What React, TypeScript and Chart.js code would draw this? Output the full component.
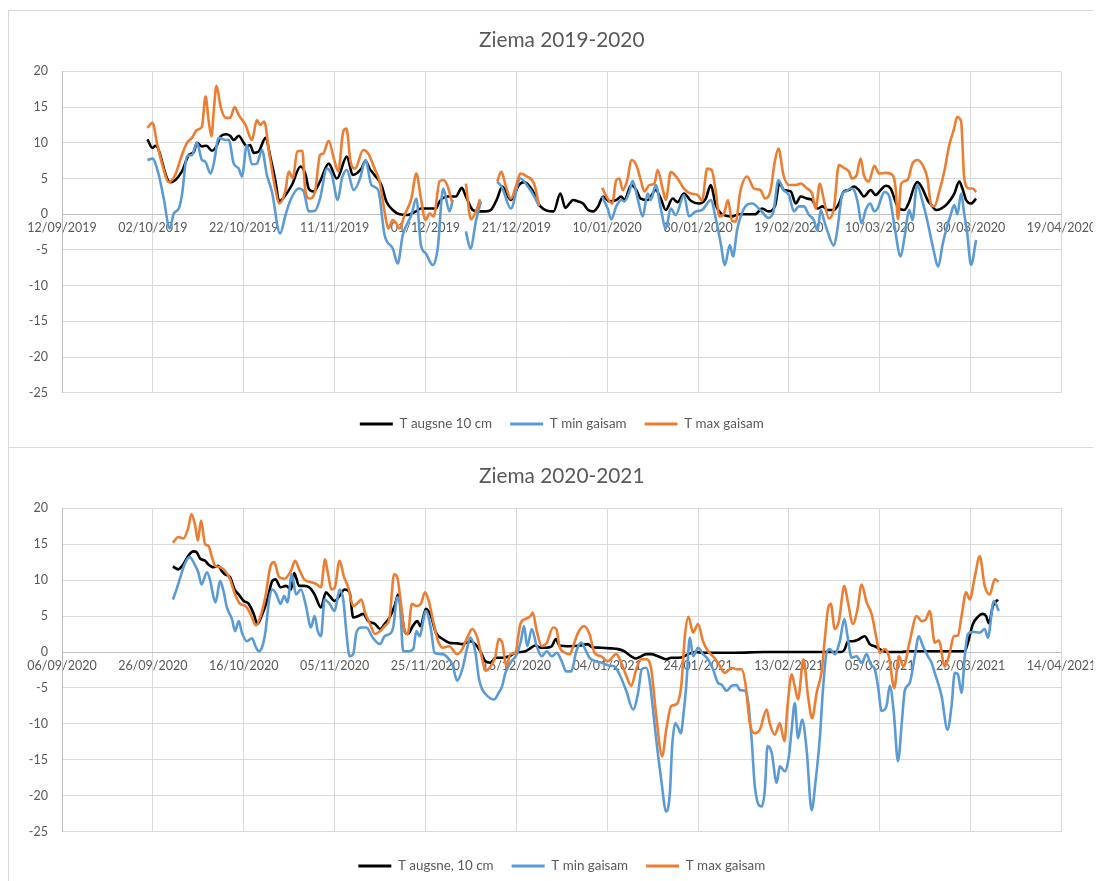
import { useEffect, useRef } from "react";
import { Chart, registerables } from "chart.js";

Chart.register(...registerables);

type Pt = [number, number | null];

// ---------- shared axis / legend data ----------
const seriesLabelsTop = ["T augsne 10 cm", "T min gaisam", "T max gaisam"];
const seriesLabelsBottom = ["T augsne, 10 cm", "T min gaisam", "T max gaisam"];
const seriesColors = ["#000000", "#5B9BD5", "#ED7D31"];
const yMin = -25;
const yMax = 20;
const yStep = 5;
const xSpanDays = 220;
const xStepDays = 20;

// ---------- Ziema 2019-2020 (x = days since 12/09/2019) ----------
const start1920: [number, number, number] = [2019, 8, 12];

const soil1920: Pt[] = [
  [18.8, 10.5], [19.9, 9.3], [20.6, 9.6], [23.5, 4.6], [24.0, 4.5], [26.4, 6.0], [27.9, 8.3], [29.0, 8.7],
  [29.7, 10.0], [30.8, 9.5], [31.8, 9.6], [33.0, 8.9], [34.0, 9.5], [34.9, 10.9], [36.0, 11.2], [37.0, 11.0],
  [37.8, 10.4], [38.9, 11.0], [40.0, 10.0], [40.7, 9.5], [41.4, 9.7], [42.2, 8.6], [43.3, 8.8], [44.8, 10.7],
  [45.9, 7.9], [47.0, 4.6], [47.8, 1.8], [49.2, 2.7], [50.6, 4.1], [52.5, 6.7], [53.6, 5.6], [54.3, 3.6],
  [55.4, 3.2], [56.8, 4.6], [58.7, 7.1], [60.5, 5.0], [62.7, 8.1], [64.0, 5.5], [65.9, 6.4], [66.8, 7.5],
  [67.7, 6.4], [68.8, 5.5], [70.3, 4.1], [71.4, 1.8], [72.8, 0.6], [74.3, 0.0], [76.1, -0.1], [77.9, 0.4],
  [79.0, 0.8], [82.3, 0.8], [83.1, 1.8], [84.9, 2.5], [86.7, 2.5], [88.0, 3.7], [88.9, 2.5], [90.4, 0.6],
  [91.5, 0.4], [93.3, 0.4], [94.4, 0.6], [95.8, 2.2], [96.9, 3.9], [98.8, 2.0], [100.6, 4.1], [101.7, 4.5],
  [103.5, 3.4], [105.3, 1.1], [108.2, 0.4], [109.7, 2.9], [110.8, 0.9], [111.8, 1.6], [112.5, 2.0], [113.6, 1.8],
  [114.7, 1.5], [115.8, 0.6], [116.9, 0.4], [118.0, 1.1], [119.1, 2.5], [120.5, 1.8], [122.0, 2.0], [123.1, 2.5],
  [123.8, 2.0], [125.3, 4.1], [126.4, 3.4], [127.4, 2.2], [128.9, 2.0], [130.7, 3.4], [131.8, 2.2], [132.9, 0.6],
  [134.4, 2.2], [135.5, 1.7], [136.9, 2.9], [138.4, 1.9], [140.2, 1.5], [141.7, 2.2], [142.8, 4.1], [143.9, 1.3],
  [145.3, 0.0], [147.5, -0.3], [149.0, 0.0], [152.6, 0.0], [154.1, 0.8], [155.5, 0.4], [157.0, 1.3], [157.9, 4.4],
  [158.9, 3.4], [160.4, 3.2], [161.5, 1.5], [162.6, 2.5], [164.0, 2.2], [165.1, 2.0], [166.3, 0.8], [167.4, 1.1],
  [168.5, 0.6], [169.9, 0.6], [171.0, 1.5], [172.1, 3.2], [173.2, 3.4], [174.3, 3.9], [175.4, 3.4], [176.5, 2.5],
  [178.0, 3.4], [179.1, 2.7], [180.2, 3.4], [181.3, 4.0], [182.4, 3.6], [183.9, 1.1], [185.4, 0.6], [186.5, 1.8],
  [187.6, 3.9], [188.3, 4.5], [189.4, 3.6], [190.5, 2.0], [191.6, 1.1], [192.4, 0.6], [193.5, 0.8], [194.9, 1.5],
  [196.4, 2.9], [197.5, 4.6], [198.2, 3.6], [199.0, 2.0], [200.1, 1.5], [201.2, 2.2],
];

const tmin1920: Pt[] = [
  [18.8, 7.6], [19.9, 7.8], [21.3, 5.5], [22.4, 2.2], [23.7, -2.0], [24.6, 0.1], [25.7, 0.8], [26.4, 2.7],
  [27.5, 8.1], [28.6, 8.3], [29.7, 10.0], [30.8, 7.6], [31.5, 7.4], [32.7, 5.7], [33.4, 7.1], [34.5, 10.7],
  [36.0, 10.4], [36.7, 10.4], [37.8, 7.1], [38.9, 6.4], [39.6, 5.3], [40.7, 9.7], [41.8, 7.0], [42.9, 7.1],
  [44.0, 9.0], [45.1, 5.5], [46.2, 3.2], [48.0, -2.7], [49.2, -0.1], [50.3, 2.0], [52.1, 3.6], [53.2, 3.2],
  [54.3, 0.4], [55.7, 0.5], [56.8, 2.2], [58.3, 6.4], [59.4, 5.5], [60.7, 2.0], [61.6, 5.0], [62.7, 6.2],
  [64.2, 3.4], [65.6, 5.0], [66.8, 7.6], [68.1, 4.1], [69.6, 3.4], [71.0, -2.9], [72.8, -4.8], [73.9, -6.9],
  [75.0, -2.9], [76.9, -0.1], [78.0, 2.2], [79.0, -4.3], [80.1, -5.5], [81.6, -7.1], [82.7, -4.8], [83.9, 3.6],
  [85.3, 0.4], [86.0, 2.0], [87.5, null], [88.9, -2.4], [89.9, -4.8], [91.1, -1.0], [92.2, 1.8], [94.0, null],
  [95.8, 4.6], [96.9, 3.7], [98.8, 0.8], [100.9, 5.0], [102.3, 4.1], [104.2, 2.2], [105.0, 1.1], [110.0, null],
  [118.9, 2.5], [120.1, 0.8], [120.9, -0.7], [122.0, 1.1], [123.1, 2.0], [123.8, 1.8], [124.9, 3.2], [125.6, 4.7],
  [126.7, 2.2], [127.8, -0.3], [128.9, 2.9], [129.6, 2.0], [130.7, 4.1], [131.8, 0.8], [132.9, -2.0], [134.0, 0.8],
  [135.1, -0.1], [136.9, 2.7], [138.0, -0.3], [139.5, 0.4], [140.9, 0.6], [142.0, 1.5], [142.8, 2.0], [143.9, -0.6],
  [145.0, -4.1], [145.9, -7.1], [147.0, -4.3], [147.7, -5.9], [148.6, -2.2], [150.1, 0.8], [151.9, 1.5], [153.7, 0.6],
  [155.5, -0.5], [156.6, 0.4], [157.7, 4.8], [158.8, 3.4], [160.0, 2.7], [161.1, 0.4], [162.2, 1.1], [163.3, 1.1],
  [164.4, -0.1], [165.5, -0.8], [166.3, -2.3], [167.0, 0.6], [167.8, -1.0], [168.5, -2.4], [169.9, -4.4], [170.6, -2.4],
  [171.8, 2.9], [172.5, 3.2], [173.6, 3.6], [174.3, 3.4], [175.1, 1.8], [176.0, -1.3], [176.9, 0.6], [177.9, 1.5],
  [178.8, 0.4], [179.5, 0.8], [181.0, 3.1], [182.1, 2.5], [183.2, -1.5], [184.6, -5.9], [185.4, -3.4], [186.5, 0.6],
  [187.2, -0.8], [188.2, 4.1], [189.4, 1.8], [190.5, -1.0], [191.6, -4.3], [192.9, -7.3], [193.8, -4.3], [194.9, -1.5],
  [195.6, -0.1], [196.4, 1.3], [197.1, 0.0], [197.9, 2.9], [198.6, 0.0], [199.2, -2.4], [200.1, -7.1], [201.2, -3.6],
];

const tmax1920: Pt[] = [
  [18.8, 12.1], [19.9, 12.8], [21.0, 9.7], [22.1, 6.9], [23.5, 4.5], [24.9, 5.5], [26.4, 8.3], [27.5, 10.0],
  [28.6, 10.7], [29.7, 11.8], [30.8, 12.3], [31.6, 16.5], [32.3, 13.0], [32.9, 10.9], [33.4, 14.4], [34.0, 18.0],
  [34.9, 15.1], [36.0, 13.5], [37.0, 13.5], [38.0, 15.0], [38.9, 13.9], [40.4, 12.5], [41.8, 10.4], [42.9, 13.2],
  [43.6, 12.5], [44.5, 13.0], [45.6, 8.6], [47.0, 3.4], [47.8, 1.5], [49.2, 3.4], [49.9, 6.0], [50.8, 5.1],
  [51.8, 8.8], [52.9, 8.9], [53.5, 3.6], [54.5, 2.2], [55.7, 3.2], [56.8, 8.3], [57.5, 8.5], [58.7, 10.3],
  [59.8, 7.9], [60.8, 6.0], [61.9, 11.6], [62.6, 12.0], [63.5, 7.4], [64.5, 6.4], [66.3, 9.0], [67.4, 8.5],
  [68.8, 6.4], [69.9, 4.6], [71.0, 0.4], [71.8, -2.0], [72.8, -0.8], [73.6, -1.3], [74.3, -2.0], [75.4, -0.1],
  [76.9, 2.2], [78.0, 5.7], [79.0, 2.2], [80.0, -0.8], [80.9, 0.1], [81.8, -0.3], [83.1, 4.6], [84.0, 4.8],
  [84.9, 3.9], [85.8, 1.8], [87.5, null], [88.9, 4.3], [90.0, -0.7], [91.1, 0.4], [92.0, 2.1], [94.0, null],
  [95.8, 4.6], [96.7, 6.0], [97.7, 3.9], [98.8, 2.2], [99.9, 3.9], [100.9, 5.7], [102.3, 5.3], [103.9, 4.3],
  [105.0, 1.3], [110.0, null], [118.9, 3.7], [120.1, 2.2], [121.1, 1.5], [122.0, 4.8], [122.7, 5.0], [123.4, 3.4],
  [124.5, 5.0], [125.3, 7.6], [126.4, 6.9], [127.3, 5.0], [128.2, 3.2], [129.3, 4.1], [130.4, 4.3], [131.1, 6.2],
  [132.2, 3.6], [132.9, 2.0], [134.0, 5.9], [135.5, 5.0], [136.9, 3.6], [138.4, 2.9], [139.9, 2.7], [140.9, 1.9],
  [142.0, 6.4], [143.0, 6.2], [143.9, 3.2], [144.7, -0.3], [145.7, 0.1], [146.6, 2.0], [147.5, -1.0], [148.3, -1.0],
  [149.3, 3.2], [150.8, 5.3], [152.3, 3.6], [153.7, 3.4], [154.8, 2.2], [155.9, 3.2], [156.9, 7.4], [157.7, 9.2],
  [158.8, 5.5], [160.0, 4.1], [161.5, 4.1], [162.6, 4.3], [164.0, 3.6], [165.1, 2.9], [165.9, 0.8], [166.8, 4.3],
  [167.7, 2.0], [168.8, -0.6], [169.9, 0.8], [171.0, 6.9], [172.1, 6.5], [173.2, 6.0], [173.9, 5.0], [174.9, 5.5],
  [175.8, 7.8], [176.5, 5.5], [177.6, 4.6], [178.8, 6.8], [179.9, 5.7], [181.3, 5.8], [182.8, 5.5], [183.5, 3.6],
  [184.0, -0.7], [184.7, 4.3], [186.1, 4.8], [187.2, 7.1], [188.3, 7.6], [189.4, 6.9], [190.5, 5.0], [191.3, 1.3],
  [192.0, 1.1], [193.1, 3.2], [194.2, 6.0], [195.3, 9.7], [196.4, 12.1], [197.0, 13.6], [197.9, 13.0], [198.6, 5.0],
  [199.7, 3.6], [200.5, 3.6], [201.2, 3.1],
];

// ---------- Ziema 2020-2021 (x = days since 06/09/2020) ----------
const start2021: [number, number, number] = [2020, 8, 6];

const soil2021: Pt[] = [
  [24.4, 11.9], [25.6, 11.5], [26.7, 12.2], [27.8, 13.4], [28.9, 14.0], [29.6, 13.9], [30.4, 13.0], [31.5, 12.7],
  [32.2, 12.2], [33.3, 11.8], [34.4, 12.0], [35.1, 11.3], [35.9, 10.8], [37.0, 10.4], [38.0, 8.7], [38.9, 8.0],
  [40.0, 7.1], [41.1, 6.7], [42.2, 5.3], [43.0, 3.9], [44.1, 5.3], [45.2, 7.3], [46.3, 9.9], [47.0, 10.1],
  [48.1, 9.0], [49.3, 9.2], [50.4, 8.7], [51.1, 11.0], [52.2, 9.2], [53.3, 9.2], [54.4, 9.0], [55.6, 8.0],
  [57.0, 6.2], [58.1, 8.3], [58.9, 7.8], [60.0, 7.1], [61.1, 7.8], [62.2, 8.7], [63.3, 8.3], [64.1, 4.8],
  [65.2, 5.0], [66.3, 5.3], [67.4, 4.3], [68.9, 3.9], [70.0, 3.2], [71.0, 3.9], [72.1, 4.8], [73.2, 6.4],
  [74.0, 8.0], [74.7, 5.7], [75.4, 2.9], [76.1, 2.5], [77.2, 3.6], [78.2, 4.3], [78.9, 3.6], [80.1, 6.0],
  [81.2, 5.0], [82.3, 2.7], [83.8, 1.8], [85.2, 1.3], [87.0, 1.2], [88.1, 1.1], [90.0, 1.5], [91.1, 1.0],
  [92.1, 0.1], [93.2, -1.3], [94.3, -1.5], [95.5, -0.8], [97.0, -0.8], [98.4, -0.6], [99.8, -0.1], [102.0, 0.1],
  [103.3, 0.6], [104.1, 0.9], [105.5, 0.6], [106.7, 0.6], [107.8, 0.8], [108.7, 1.8], [109.5, 0.9], [111.8, 0.8],
  [114.0, 0.9], [115.8, 1.1], [116.5, 0.7], [118.7, 0.6], [120.9, 0.5], [122.4, 0.4], [123.8, 0.1], [125.3, -0.6],
  [126.4, -0.9], [127.5, -0.6], [128.6, -0.3], [129.7, -0.3], [131.2, -0.6], [133.0, -1.0], [134.1, -0.8], [135.6, -0.8],
  [136.7, -0.7], [137.8, -0.3], [139.3, 0.0], [141.5, -0.1], [148.1, -0.1], [154.7, 0.0], [162.4, 0.0], [171.6, 0.0],
  [172.3, 0.4], [173.0, 1.5], [174.1, 1.5], [175.2, 1.7], [176.7, 2.2], [177.8, 1.1], [178.9, 0.8], [180.0, 0.4],
  [181.5, 0.0], [184.8, 0.0], [186.3, 0.1], [198.7, 0.1], [199.4, 1.3], [200.5, 3.9], [201.6, 4.9], [202.7, 5.3],
  [203.4, 5.0], [204.0, 4.0], [204.9, 6.4], [206.0, 7.3],
];

const tmin2021: Pt[] = [
  [24.4, 7.3], [25.1, 8.5], [25.9, 10.1], [27.0, 12.2], [28.1, 13.2], [29.2, 12.2], [30.0, 11.1], [30.7, 9.4],
  [31.9, 11.1], [32.6, 10.0], [33.3, 7.8], [33.8, 6.9], [34.8, 9.9], [35.5, 8.6], [36.3, 6.2], [37.4, 4.6],
  [38.1, 2.9], [38.9, 4.3], [39.6, 2.7], [40.7, 1.5], [41.8, 1.9], [42.6, 0.8], [43.3, 0.1], [44.1, 0.8],
  [44.8, 2.9], [45.6, 7.3], [46.3, 8.7], [47.2, 8.0], [48.1, 6.7], [48.9, 7.8], [49.6, 6.9], [50.6, 10.8],
  [51.5, 8.0], [52.6, 8.7], [53.7, 6.4], [54.8, 3.4], [55.6, 5.0], [56.3, 2.9], [57.0, 2.2], [57.8, 7.3],
  [58.9, 6.7], [60.0, 5.7], [61.1, 8.7], [61.9, 7.3], [62.6, 2.7], [63.3, -0.6], [64.1, -0.3], [64.8, 2.7],
  [65.9, 3.4], [67.0, 3.4], [68.4, 2.0], [70.0, 1.1], [71.0, 2.2], [72.1, 2.5], [72.9, 3.4], [73.8, 7.6],
  [74.4, 6.4], [75.1, 0.1], [76.2, 0.1], [77.3, 0.4], [78.0, 2.9], [78.7, 2.2], [80.1, 5.7], [81.2, 3.2],
  [82.0, -0.1], [83.8, -0.3], [84.9, -0.8], [85.9, -1.7], [87.0, -4.0], [88.1, -2.4], [89.2, 0.6], [89.9, 2.0],
  [91.0, -0.1], [91.8, -3.8], [92.5, -5.2], [93.6, -6.1], [95.1, -6.6], [96.1, -5.7], [96.9, -4.7], [97.6, -2.9],
  [98.7, -1.5], [100.1, -0.3], [101.0, 1.5], [101.7, 3.6], [102.4, 0.8], [103.4, 3.2], [104.5, 0.8], [105.6, -0.6],
  [106.7, 0.1], [107.8, -0.6], [108.9, -0.1], [110.0, -1.3], [111.0, -2.7], [112.1, -2.7], [113.2, 0.1], [114.3, 1.3],
  [115.0, 0.6], [116.1, -0.8], [117.5, -1.3], [118.9, -1.5], [120.5, -1.9], [121.6, -2.0], [122.7, -3.1], [124.2, -5.4],
  [125.7, -8.0], [126.8, -5.7], [127.6, -2.4], [128.6, -2.2], [129.3, -3.8], [130.0, -7.5], [130.8, -12.2], [131.9, -17.8],
  [133.0, -22.2], [133.8, -19.6], [134.3, -13.1], [135.0, -9.9], [135.6, -10.5], [136.2, -11.3], [136.9, -8.0], [137.4, -4.7],
  [138.2, 2.0], [138.9, -0.6], [140.0, 0.6], [141.1, -0.3], [142.2, -1.0], [143.3, -2.4], [144.4, -4.3], [145.1, -4.5],
  [146.3, -5.4], [147.4, -4.7], [148.5, -4.6], [149.2, -5.3], [150.3, -5.4], [151.0, -6.8], [151.8, -12.2], [152.5, -18.7],
  [154.0, -21.5], [154.7, -19.2], [155.3, -13.1], [156.2, -14.0], [157.3, -18.2], [158.0, -15.9], [159.1, -16.6], [160.0, -14.5],
  [160.6, -10.8], [161.3, -7.1], [162.0, -12.0], [162.9, -9.4], [163.9, -13.6], [165.0, -22.0], [165.9, -17.8], [166.8, -12.0],
  [167.5, -5.2], [168.3, -0.1], [169.0, 0.4], [170.1, -0.3], [171.2, 1.5], [172.2, 4.6], [172.9, 2.2], [173.8, -0.8],
  [174.9, -0.6], [176.0, -1.5], [177.1, -0.3], [178.0, -1.7], [178.9, -2.4], [179.6, -4.7], [180.4, -8.2], [181.5, -7.5],
  [182.2, -4.7], [183.1, -8.5], [184.0, -15.2], [184.9, -9.4], [185.5, -5.4], [186.6, -4.3], [187.7, -0.6], [188.6, 2.2],
  [189.5, 0.8], [190.6, -0.6], [191.4, -1.5], [192.1, -2.9], [193.6, -6.1], [194.9, -10.8], [195.8, -7.5], [196.5, -2.9],
  [197.2, -3.1], [198.0, -5.7], [198.7, -0.6], [199.4, 2.5], [200.5, 2.8], [202.0, 2.7], [203.1, 3.2], [203.8, 2.0],
  [205.1, 7.1], [206.2, 5.7],
];

const tmax2021: Pt[] = [
  [24.4, 15.2], [25.6, 16.0], [26.7, 15.8], [27.8, 17.3], [28.5, 19.2], [29.3, 17.6], [29.9, 15.5], [30.6, 18.3],
  [31.5, 15.0], [32.2, 14.8], [33.0, 13.2], [33.7, 12.0], [34.8, 11.8], [35.9, 11.3], [37.0, 10.1], [38.1, 8.0],
  [39.2, 6.7], [40.4, 6.4], [41.5, 5.3], [42.7, 3.7], [43.7, 5.0], [44.8, 7.8], [45.9, 12.0], [46.7, 12.5],
  [47.8, 10.4], [48.9, 10.2], [50.4, 11.3], [51.3, 12.7], [52.2, 11.5], [53.3, 10.1], [54.8, 9.7], [55.9, 9.5],
  [57.0, 9.0], [57.9, 12.9], [58.5, 11.1], [59.3, 8.7], [60.0, 8.9], [61.1, 12.7], [62.0, 10.6], [63.0, 9.0],
  [64.1, 6.4], [65.2, 6.9], [65.9, 7.3], [66.7, 5.5], [67.8, 3.9], [68.9, 2.5], [70.0, 2.9], [71.0, 3.6],
  [72.1, 4.8], [73.1, 10.8], [73.8, 10.4], [74.5, 7.3], [75.4, 2.9], [76.1, 2.5], [77.0, 6.7], [78.0, 6.4],
  [79.0, 6.7], [79.9, 8.3], [80.8, 6.9], [81.8, 4.0], [82.8, 1.5], [83.8, 0.6], [85.2, 0.8], [87.0, -0.3],
  [88.1, 0.4], [89.2, 2.0], [90.3, 3.2], [91.4, 2.0], [92.5, -1.0], [93.2, -2.6], [94.3, -2.0], [95.4, -0.6],
  [96.1, 1.8], [96.9, 1.3], [97.8, -2.0], [98.7, -0.3], [99.8, -0.1], [100.5, 2.5], [100.9, 3.9], [102.0, 4.6],
  [103.1, 5.0], [103.6, 5.5], [104.5, 2.9], [105.6, 0.8], [106.7, 1.3], [108.1, 3.4], [108.8, 3.2], [109.5, 0.8],
  [110.7, -0.1], [111.8, -0.3], [112.5, 0.8], [113.6, 2.7], [114.9, 3.6], [116.1, 2.5], [117.2, -0.1], [118.7, -0.6],
  [120.1, -1.3], [122.0, -0.3], [123.1, -1.5], [124.2, -3.3], [125.3, -4.7], [126.4, -2.4], [127.5, -1.0], [128.6, -1.0],
  [129.7, -2.4], [130.8, -8.9], [132.1, -14.5], [133.0, -10.8], [134.1, -7.5], [135.2, -7.3], [136.3, -4.7], [137.1, 2.2],
  [137.9, 4.9], [138.9, 2.7], [140.0, 3.9], [141.1, 1.5], [142.2, 0.1], [143.3, -0.6], [144.4, -1.5], [145.9, -2.9],
  [147.4, -2.2], [148.5, -2.4], [149.6, -2.4], [150.4, -4.3], [151.4, -9.9], [152.5, -11.3], [153.6, -10.8], [155.1, -8.0],
  [155.8, -10.0], [156.9, -11.5], [158.0, -9.9], [159.0, -12.4], [159.7, -7.5], [160.6, -3.1], [161.3, -4.8], [162.0, -6.6],
  [163.2, -1.0], [164.2, -6.1], [165.1, -9.2], [166.1, -5.7], [167.2, -2.7], [167.9, 1.8], [168.6, 6.0], [169.2, 6.7],
  [170.1, 3.2], [171.0, 4.3], [172.2, 9.2], [173.0, 6.9], [174.1, 3.9], [175.1, 6.0], [176.0, 9.4], [177.1, 6.9],
  [178.2, 5.3], [179.3, 1.8], [180.0, -0.1], [181.1, 0.4], [182.0, -0.6], [183.2, -5.0], [184.2, -0.6], [185.2, -2.0],
  [186.6, 1.5], [188.1, 5.0], [189.2, 4.3], [190.1, 4.5], [191.0, 5.7], [192.1, 1.3], [193.0, 1.6], [194.3, -2.0],
  [195.4, -0.1], [196.3, 2.2], [197.2, 2.3], [198.0, 5.0], [199.0, 8.3], [199.8, 7.3], [200.9, 10.4], [202.0, 13.3],
  [203.1, 9.2], [204.2, 8.0], [205.3, 10.1], [206.2, 9.8],
];

// ---------- styling ----------
const FONT = "Lato, 'Open Sans', 'DejaVu Sans', sans-serif";
const TEXT = "#595959";
const GRID = "#d9d9d9";
const AXIS = "#bfbfbf";
const CANVAS_W = 1093;
const CANVAS_H = 436;
const LEGEND_FONT = 13.4;
const LEGEND_PAD = 18;

type Geom = { titleTop: number; titleBottom: number; legendGap: number; padBottom: number };

const pad2 = (n: number) => (n < 10 ? "0" + n : "" + n);

function Panel(props: {
  title: string;
  start: [number, number, number];
  series: Pt[][];
  labels: string[];
  geom: Geom;
  style: any;
}) {
  const ref = useRef<HTMLCanvasElement | null>(null);
  useEffect(() => {
    const { title, start, series, labels, geom } = props;
    const base = Date.UTC(start[0], start[1], start[2]);
    const fmt = (v: number) => {
      const d = new Date(base + Math.round(v) * 86400000);
      return pad2(d.getUTCDate()) + "/" + pad2(d.getUTCMonth() + 1) + "/" + d.getUTCFullYear();
    };
    const chart = new Chart(ref.current as HTMLCanvasElement, {
      type: "line",
      data: {
        datasets: series.map((s, i) => ({
          label: labels[i],
          data: s.map(([x, y]) => ({ x, y })),
          borderColor: seriesColors[i],
          backgroundColor: seriesColors[i],
          borderWidth: 2.6,
          pointRadius: 0,
          pointHoverRadius: 0,
          cubicInterpolationMode: "monotone",
          spanGaps: false,
          order: 2 - i,
        })),
      } as any,
      options: {
        responsive: false,
        animation: false,
        devicePixelRatio: 1,
        parsing: false as any,
        normalized: true,
        layout: { padding: { left: 0, right: CANVAS_W - 1052.5, top: 0, bottom: geom.padBottom } },
        scales: {
          x: {
            type: "linear",
            position: { y: 0 } as any,
            min: 0,
            max: xSpanDays,
            afterFit: (s: any) => {
              s.paddingLeft = 0;
              s.paddingRight = 0;
            },
            ticks: {
              stepSize: xStepDays,
              autoSkip: false,
              maxRotation: 0,
              minRotation: 0,
              color: TEXT,
              padding: 6,
              font: { family: FONT, size: 12.5 },
              callback: (v: any) => fmt(Number(v)),
            },
            grid: { color: GRID, drawTicks: false, lineWidth: 1 },
            border: { color: AXIS, width: 1 },
          },
          y: {
            min: yMin,
            max: yMax,
            afterFit: (s: any) => {
              s.width = 53;
            },
            ticks: { stepSize: yStep, color: TEXT, padding: 14, font: { family: FONT, size: 12.5 } },
            grid: { color: GRID, drawTicks: false, lineWidth: 1 },
            border: { color: AXIS, width: 1 },
          },
        },
        plugins: {
          title: {
            display: true,
            fullSize: false,
            text: title,
            color: TEXT,
            font: { family: FONT, size: 20.8, weight: "normal", lineHeight: 1.2 },
            padding: { top: geom.titleTop, bottom: geom.titleBottom },
          },
          legend: {
            display: true,
            fullSize: false,
            position: "bottom",
            title: {
              display: true,
              text: " ",
              font: { family: FONT, size: 1, lineHeight: 1 },
              padding: { top: geom.legendGap - 1, bottom: 0 },
            },
            labels: {
              boxWidth: 33,
              boxHeight: 3,
              padding: LEGEND_PAD,
              color: TEXT,
              font: { family: FONT, size: LEGEND_FONT },
              sort: (a: any, b: any) => a.datasetIndex - b.datasetIndex,
              generateLabels: (c: any) =>
                (Chart.defaults.plugins.legend.labels.generateLabels as any)(c).map((l: any) => ({
                  ...l,
                  lineWidth: 0,
                  fillStyle: l.strokeStyle,
                })),
            },
          },
          tooltip: { enabled: false },
        },
      } as any,
    });
    return () => chart.destroy();
  }, []);
  return (
    <div
      style={{
        position: "relative",
        width: CANVAS_W + 2,
        height: CANVAS_H + 2,
        boxSizing: "border-box",
        border: "1px solid #d9d9d9",
        background: "#ffffff",
        ...props.style,
      }}
    >
      <canvas ref={ref} width={CANVAS_W} height={CANVAS_H} style={{ display: "block", width: CANVAS_W, height: CANVAS_H }} />
    </div>
  );
}

export default function App() {
  return (
    <div style={{ paddingTop: 2 }}>
      <Panel
        title="Ziema 2019-2020"
        start={start1920}
        series={[soil1920, tmin1920, tmax1920]}
        labels={seriesLabelsTop}
        geom={{ titleTop: 16.5, titleBottom: 19, legendGap: 6.5, padBottom: 6.3 }}
        style={{}}
      />
      <Panel
        title="Ziema 2020-2021"
        start={start2021}
        series={[soil2021, tmin2021, tmax2021]}
        labels={seriesLabelsBottom}
        geom={{ titleTop: 15.5, titleBottom: 19.8, legendGap: 9.6, padBottom: 1.3 }}
        style={{ marginTop: -1 }}
      />
    </div>
  );
}
